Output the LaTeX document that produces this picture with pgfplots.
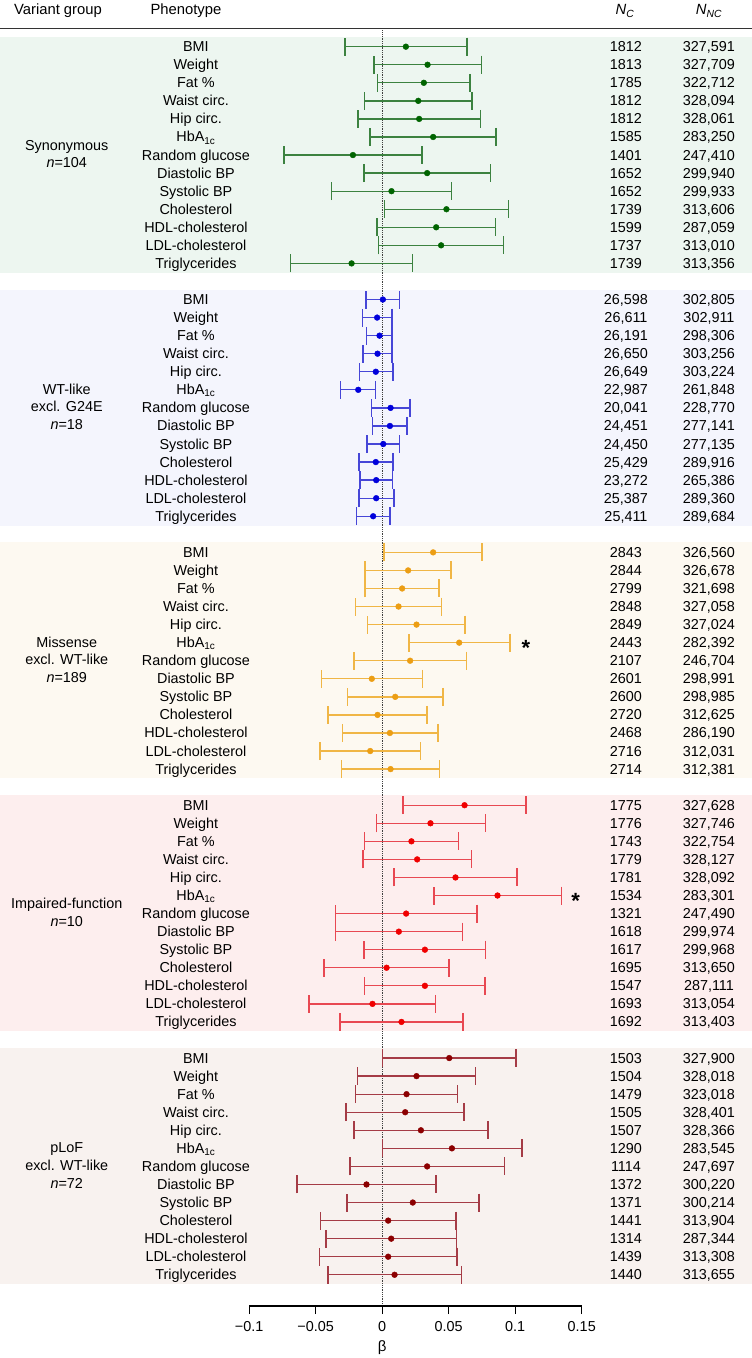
\documentclass[border=0pt]{standalone}
\usepackage{fontspec}
\setmainfont{Liberation Sans}
\usepackage{pgfplots}
\usepackage{pgfplotstable}
\pgfplotsset{compat=1.18}

% colours: error-bar line / point / panel background
\definecolor{synL}{RGB}{60,130,64}   \definecolor{synD}{RGB}{0,100,0}     \definecolor{synB}{RGB}{237,246,240}
\definecolor{wtL}{RGB}{70,70,215}    \definecolor{wtD}{RGB}{0,0,220}      \definecolor{wtB}{RGB}{244,245,253}
\definecolor{misL}{RGB}{240,182,70}  \definecolor{misD}{RGB}{236,158,20}  \definecolor{misB}{RGB}{253,249,241}
\definecolor{impL}{RGB}{232,72,82}   \definecolor{impD}{RGB}{240,0,0}     \definecolor{impB}{RGB}{253,238,238}
\definecolor{lofL}{RGB}{165,60,70}   \definecolor{lofD}{RGB}{140,0,0}     \definecolor{lofB}{RGB}{248,242,239}

% row  lower  beta  upper
\pgfplotstableread{
row lo est hi
0 -0.0278 0.0178 0.0636
1 -0.0063 0.0341 0.0746
2 -0.0035 0.0313 0.0661
3 -0.0133 0.0271 0.0676
4 -0.0183 0.0278 0.0739
5 -0.0090 0.0383 0.0857
6 -0.0739 -0.0220 0.0298
7 -0.0138 0.0338 0.0814
8 -0.0381 0.0070 0.0521
9 0.0018 0.0483 0.0949
10 -0.0040 0.0406 0.0852
11 -0.0028 0.0443 0.0912
12 -0.0689 -0.0230 0.0228
}\tSyn
\pgfplotstableread{
row lo est hi
0 -0.0120 0.0005 0.0130
1 -0.0148 -0.0038 0.0075
2 -0.0118 -0.0020 0.0075
3 -0.0145 -0.0035 0.0075
4 -0.0170 -0.0048 0.0080
5 -0.0313 -0.0180 -0.0050
6 -0.0080 0.0063 0.0208
7 -0.0073 0.0058 0.0188
8 -0.0115 0.0008 0.0130
9 -0.0173 -0.0048 0.0083
10 -0.0168 -0.0045 0.0078
11 -0.0173 -0.0045 0.0088
12 -0.0193 -0.0068 0.0060
}\tWT
\pgfplotstableread{
row lo est hi
0 0.0015 0.0383 0.0751
1 -0.0130 0.0195 0.0519
2 -0.0130 0.0150 0.0428
3 -0.0200 0.0123 0.0446
4 -0.0110 0.0258 0.0624
5 0.0200 0.0579 0.0959
6 -0.0213 0.0210 0.0634
7 -0.0456 -0.0078 0.0303
8 -0.0261 0.0098 0.0458
9 -0.0406 -0.0035 0.0338
10 -0.0298 0.0058 0.0418
11 -0.0466 -0.0090 0.0288
12 -0.0306 0.0063 0.0431
}\tMis
\pgfplotstableread{
row lo est hi
0 0.0155 0.0619 0.1080
1 -0.0043 0.0363 0.0777
2 -0.0133 0.0220 0.0574
3 -0.0145 0.0263 0.0671
4 0.0090 0.0551 0.1015
5 0.0389 0.0867 0.1348
6 -0.0351 0.0180 0.0714
7 -0.0351 0.0125 0.0604
8 -0.0135 0.0321 0.0777
9 -0.0436 0.0033 0.0501
10 -0.0133 0.0321 0.0774
11 -0.0549 -0.0073 0.0401
12 -0.0318 0.0145 0.0609
}\tImp
\pgfplotstableread{
row lo est hi
0 0.0003 0.0504 0.1007
1 -0.0185 0.0258 0.0701
2 -0.0200 0.0183 0.0566
3 -0.0271 0.0173 0.0616
4 -0.0213 0.0291 0.0794
5 0.0003 0.0524 0.1050
6 -0.0243 0.0338 0.0919
7 -0.0639 -0.0118 0.0403
8 -0.0263 0.0230 0.0726
9 -0.0463 0.0045 0.0554
10 -0.0421 0.0068 0.0559
11 -0.0471 0.0045 0.0561
12 -0.0408 0.0093 0.0596
}\tLoF

\newcommand{\rowfont}{\fontsize{14.4}{17}\selectfont}
\tikzset{txt/.style={anchor=base, yshift=-5pt, inner sep=0pt, font=\rowfont},
         grp/.style={anchor=base, inner sep=0pt, font=\rowfont},
         hdr/.style={anchor=base, inner sep=0pt, font=\fontsize{14.8}{18}\selectfont}}

% phenotype names of one block, #1 = first row
\newcommand{\phenotypes}[1]{%
  \node[txt] at (axis cs:-0.1400,{-#1}) {BMI};
  \node[txt] at (axis cs:-0.1400,{-#1-1}) {Weight};
  \node[txt] at (axis cs:-0.1400,{-#1-2}) {Fat \%};
  \node[txt] at (axis cs:-0.1400,{-#1-3}) {Waist circ.};
  \node[txt] at (axis cs:-0.1400,{-#1-4}) {Hip circ.};
  \node[txt] at (axis cs:-0.1400,{-#1-5}) {HbA\textsubscript{1c}};
  \node[txt] at (axis cs:-0.1400,{-#1-6}) {Random glucose};
  \node[txt] at (axis cs:-0.1400,{-#1-7}) {Diastolic BP};
  \node[txt] at (axis cs:-0.1400,{-#1-8}) {Systolic BP};
  \node[txt] at (axis cs:-0.1400,{-#1-9}) {Cholesterol};
  \node[txt] at (axis cs:-0.1400,{-#1-10}) {HDL-cholesterol};
  \node[txt] at (axis cs:-0.1400,{-#1-11}) {LDL-cholesterol};
  \node[txt] at (axis cs:-0.1400,{-#1-12}) {Triglycerides};
}
% carrier / non-carrier counts of one row
\newcommand{\cnt}[3]{%
  \node[txt] at (axis cs:0.18325,{-#1}) {#2};
  \node[txt] at (axis cs:0.24564,{-#1}) {#3};
}
% one block of estimates with confidence intervals
\newcommand{\forest}[4]{%
  \addplot[only marks, mark=none, forget plot,
    error bars/.cd, x dir=both, x explicit, error mark=|,
    error bar style={line width=1.3pt, color=#3},
    error mark options={line width=1.5pt, mark size=9pt, color=#3}]
    table[x=est, y expr=-\thisrow{row}-#2,
          x error plus expr=\thisrow{hi}-\thisrow{est},
          x error minus expr=\thisrow{est}-\thisrow{lo}] {#1};
  \addplot[only marks, mark=*, mark size=2.9pt, color=#4, forget plot]
    table[x=est, y expr=-\thisrow{row}-#2] {#1};
}

\begin{document}
\begin{tikzpicture}
\begin{axis}[
  scale only axis, width=332.6pt, height=1306pt,
  xmin=-0.1, xmax=0.15, ymin=-69.73, ymax=2.586,
  axis x line=bottom, axis y line=none,
  x axis line style={-, line width=1.1pt, black},
  xtick={-0.1,-0.05,0,0.05,0.1,0.15},
  xticklabels={−0.1,−0.05,0,0.05,0.1,0.15},
  xtick align=outside, major tick length=8pt,
  tick style={line width=1.1pt, black},
  xticklabel style={font=\rowfont, yshift=-3.6pt},
  clip=false, set layers,
]
\begin{pgfonlayer}{axis background}
  \fill[synB] (axis cs:-0.28728,0.55)   rectangle (axis cs:0.27796,-12.52);
  \fill[wtB]  (axis cs:-0.28728,-13.45) rectangle (axis cs:0.27796,-26.52);
  \fill[misB] (axis cs:-0.28728,-27.45) rectangle (axis cs:0.27796,-40.52);
  \fill[impB] (axis cs:-0.28728,-41.45) rectangle (axis cs:0.27796,-54.52);
  \fill[lofB] (axis cs:-0.28728,-55.45) rectangle (axis cs:0.27796,-68.52);
  \draw[line width=1.3pt, black!80] (axis cs:-0.28728,1.0188) -- (axis cs:0.27796,1.0188);
  \draw[densely dotted, line width=0.8pt, black!75] (axis cs:0,0.897) -- (axis cs:0,-69.73);
\end{pgfonlayer}

\forest{\tSyn}{0}{synL}{synD}
\forest{\tWT}{14}{wtL}{wtD}
\forest{\tMis}{28}{misL}{misD}
\forest{\tImp}{42}{impL}{impD}
\forest{\tLoF}{56}{lofL}{lofD}

% column headers
\node[hdr] at (axis cs:-0.2437,1.7553) {Variant group};
\node[hdr] at (axis cs:-0.1475,1.7553) {Phenotype};
\node[hdr] at (axis cs:0.18250,1.7553) {\textit{N}\textsubscript{\textit{C}}};
\node[hdr] at (axis cs:0.24564,1.7553) {\textit{N}\textsubscript{\textit{NC}}};

% variant groups
\node[grp, yshift=4.85pt]  at (axis cs:-0.2371,-6) {Synonymous};
\node[grp, yshift=-12.85pt] at (axis cs:-0.2371,-6) {\textit{n}=104};
\node[grp, yshift=13.7pt]  at (axis cs:-0.2371,-20) {WT-like};
\node[grp, yshift=-4pt]    at (axis cs:-0.2371,-20) {excl. G24E};
\node[grp, yshift=-21.7pt] at (axis cs:-0.2371,-20) {\textit{n}=18};
\node[grp, yshift=13.7pt]  at (axis cs:-0.2371,-34) {Missense};
\node[grp, yshift=-4pt]    at (axis cs:-0.2371,-34) {excl. WT-like};
\node[grp, yshift=-21.7pt] at (axis cs:-0.2371,-34) {\textit{n}=189};
\node[grp, yshift=4.85pt]  at (axis cs:-0.2371,-48) {Impaired-function};
\node[grp, yshift=-12.85pt] at (axis cs:-0.2371,-48) {\textit{n}=10};
\node[grp, yshift=13.7pt]  at (axis cs:-0.2371,-62) {pLoF};
\node[grp, yshift=-4pt]    at (axis cs:-0.2371,-62) {excl. WT-like};
\node[grp, yshift=-21.7pt] at (axis cs:-0.2371,-62) {\textit{n}=72};

\phenotypes{0}
\phenotypes{14}
\phenotypes{28}
\phenotypes{42}
\phenotypes{56}

\cnt{0}{1812}{327,591}   \cnt{1}{1813}{327,709}   \cnt{2}{1785}{322,712}
\cnt{3}{1812}{328,094}   \cnt{4}{1812}{328,061}   \cnt{5}{1585}{283,250}
\cnt{6}{1401}{247,410}   \cnt{7}{1652}{299,940}   \cnt{8}{1652}{299,933}
\cnt{9}{1739}{313,606}   \cnt{10}{1599}{287,059}  \cnt{11}{1737}{313,010}
\cnt{12}{1739}{313,356}

\cnt{14}{26,598}{302,805} \cnt{15}{26,611}{302,911} \cnt{16}{26,191}{298,306}
\cnt{17}{26,650}{303,256} \cnt{18}{26,649}{303,224} \cnt{19}{22,987}{261,848}
\cnt{20}{20,041}{228,770} \cnt{21}{24,451}{277,141} \cnt{22}{24,450}{277,135}
\cnt{23}{25,429}{289,916} \cnt{24}{23,272}{265,386} \cnt{25}{25,387}{289,360}
\cnt{26}{25,411}{289,684}

\cnt{28}{2843}{326,560}  \cnt{29}{2844}{326,678}  \cnt{30}{2799}{321,698}
\cnt{31}{2848}{327,058}  \cnt{32}{2849}{327,024}  \cnt{33}{2443}{282,392}
\cnt{34}{2107}{246,704}  \cnt{35}{2601}{298,991}  \cnt{36}{2600}{298,985}
\cnt{37}{2720}{312,625}  \cnt{38}{2468}{286,190}  \cnt{39}{2716}{312,031}
\cnt{40}{2714}{312,381}

\cnt{42}{1775}{327,628}  \cnt{43}{1776}{327,746}  \cnt{44}{1743}{322,754}
\cnt{45}{1779}{328,127}  \cnt{46}{1781}{328,092}  \cnt{47}{1534}{283,301}
\cnt{48}{1321}{247,490}  \cnt{49}{1618}{299,974}  \cnt{50}{1617}{299,968}
\cnt{51}{1695}{313,650}  \cnt{52}{1547}{287,111}  \cnt{53}{1693}{313,054}
\cnt{54}{1692}{313,403}

\cnt{56}{1503}{327,900}  \cnt{57}{1504}{328,018}  \cnt{58}{1479}{323,018}
\cnt{59}{1505}{328,401}  \cnt{60}{1507}{328,366}  \cnt{61}{1290}{283,545}
\cnt{62}{1114}{247,697}  \cnt{63}{1372}{300,220}  \cnt{64}{1371}{300,214}
\cnt{65}{1441}{313,904}  \cnt{66}{1314}{287,344}  \cnt{67}{1439}{313,308}
\cnt{68}{1440}{313,655}

% significance
\node[anchor=base, inner sep=0pt, yshift=-12.8pt, font=\fontsize{22}{24}\selectfont\bfseries] at (axis cs:0.1080,-33) {*};
\node[anchor=base, inner sep=0pt, yshift=-12.8pt, font=\fontsize{22}{24}\selectfont\bfseries] at (axis cs:0.1454,-47) {*};

% axis title
\node[anchor=base, inner sep=0pt, yshift=-45.5pt, font=\fontsize{15}{18}\selectfont] at (axis cs:0,-69.73) {β};

\coordinate (tl) at (axis cs:-0.28728,2.586);
\coordinate (br) at (axis cs:0.27796,-72.608);
\end{axis}
\pgfresetboundingbox
\useasboundingbox (tl) rectangle (br);
\end{tikzpicture}
\end{document}
